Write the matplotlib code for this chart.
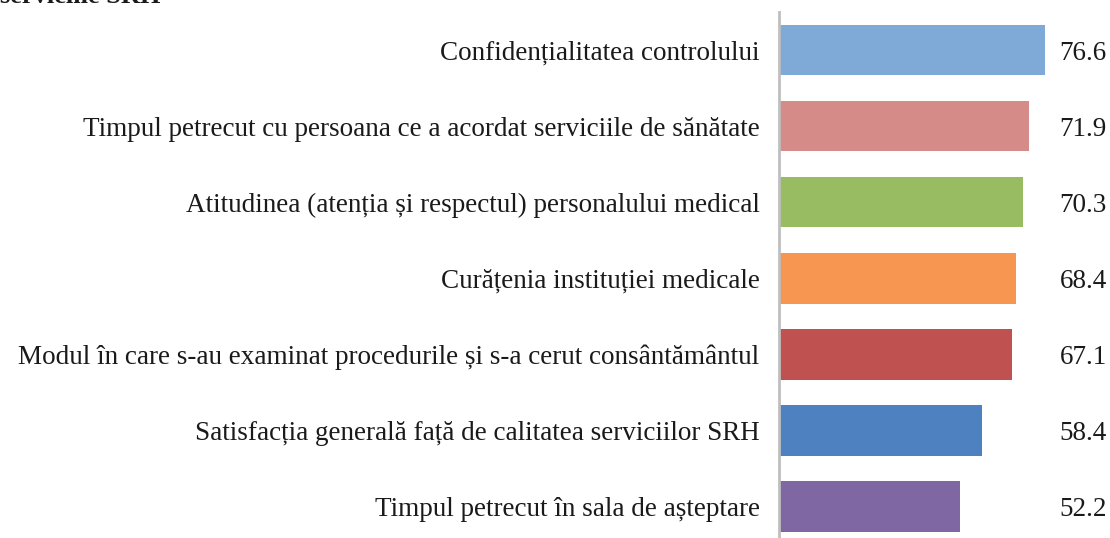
import matplotlib
matplotlib.use("Agg")
import matplotlib.pyplot as plt

categories = [
    "Confidențialitatea controlului",
    "Timpul petrecut cu persoana ce a acordat serviciile de sănătate",
    "Atitudinea (atenția și respectul) personalului medical",
    "Curățenia instituției medicale",
    "Modul în care s-au examinat procedurile și s-a cerut consântământul",
    "Satisfacția generală față de calitatea serviciilor SRH",
    "Timpul petrecut în sala de așteptare",
]
values = [76.6, 71.9, 70.3, 68.4, 67.1, 58.4, 52.2]
colors = ["#7FAAD8", "#D58C89", "#98BC62", "#F79650", "#BF5150", "#4D81C0", "#7E67A3"]
value_labels = ["76.6", "71.9", "70.3", "68.4", "67.1", "58.4", "52.2"]

plt.rcParams['font.family'] = ['Liberation Serif', 'DejaVu Serif']

fig = plt.figure(figsize=(11.10, 5.38), dpi=100)
ax = fig.add_axes([779/1110, 0.0, (1110-779)/1110, (538-12)/538])

pos = list(range(len(categories)))
ax.barh(pos, values, height=0.67, color=colors, left=0)
ax.set_ylim(6.42, -0.5)
ax.set_xlim(0, 330/3.46)

ax.set_yticks(pos)
ax.set_yticklabels(categories, fontsize=19.5, color="#1a1a1a", va="center_baseline")
ax.tick_params(axis='y', length=0, pad=14)
ax.set_xticks([])
for s in ["top", "right", "bottom"]:
    ax.spines[s].set_visible(False)
ax.spines["left"].set_color("#BFBFBF")
ax.spines["left"].set_linewidth(2)

for p, lab in zip(pos, value_labels):
    ax.text(0.99, p, lab, transform=ax.get_yaxis_transform(), ha="right", va="center_baseline",
            fontsize=19.5, color="#1a1a1a")

fig.text(0.0, 1 - 3/538, "serviciile SRH", ha="left", va="baseline", fontsize=19,
         fontweight="bold", color="#1a1a1a")

fig.savefig("out.png", dpi=100)
